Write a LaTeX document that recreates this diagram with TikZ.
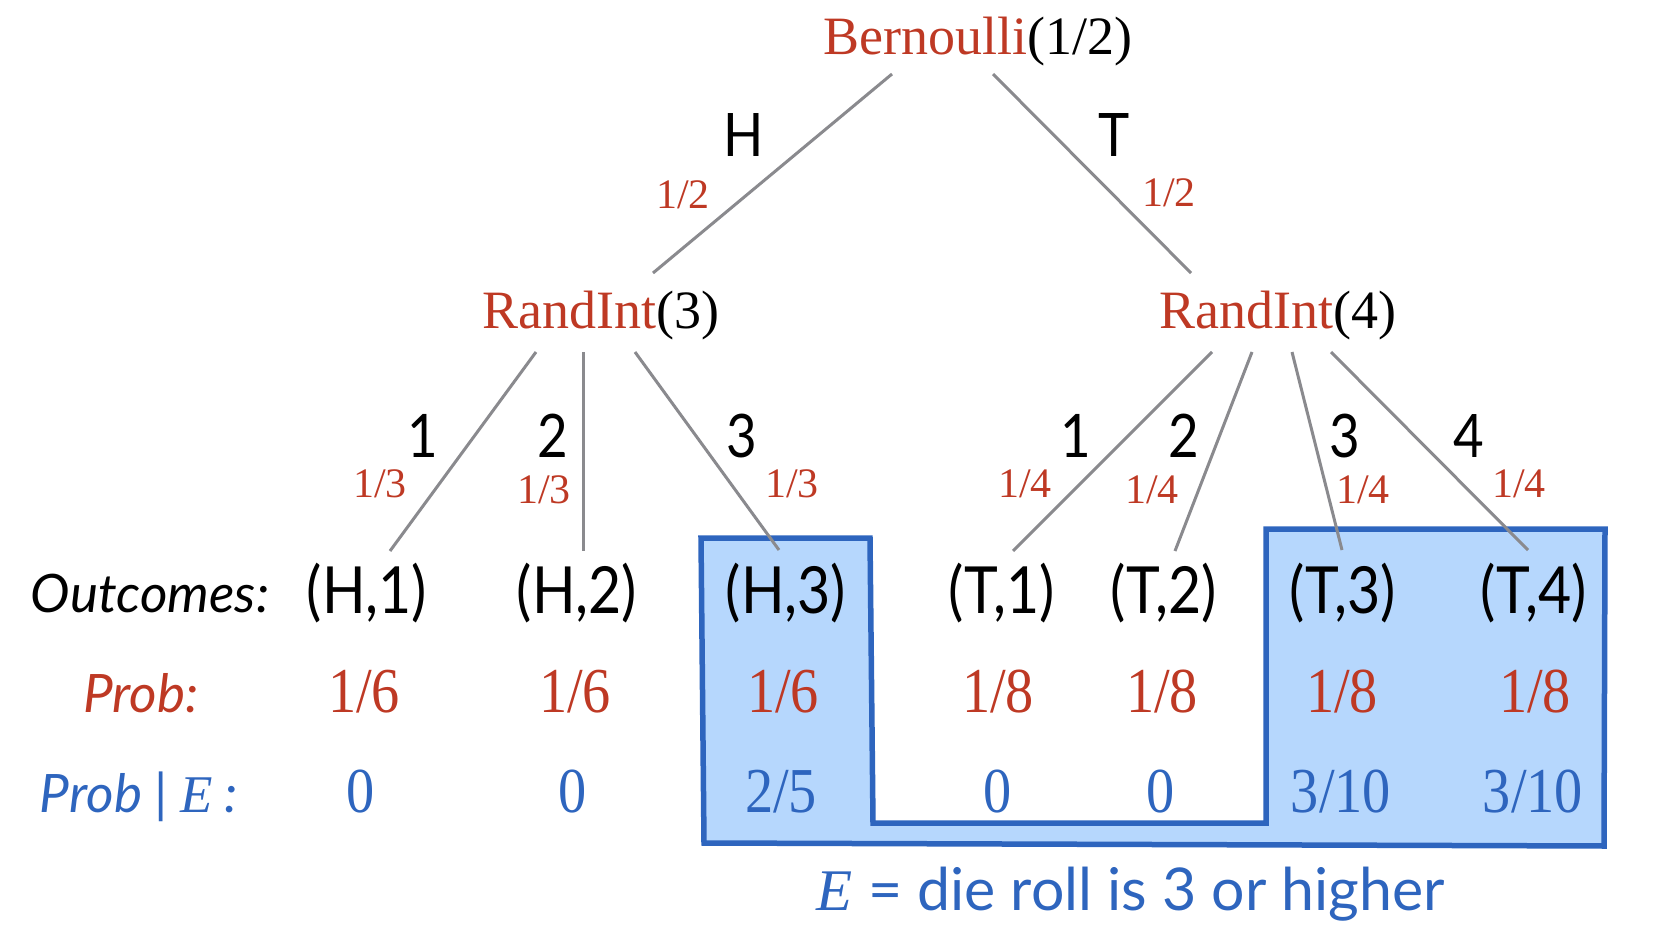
\documentclass[tikz,border=0pt]{standalone}
\usepackage{fontspec}
\newfontfamily\serifrm{Liberation Serif}
\newfontfamily\serifcond{Liberation Serif}[FakeStretch=0.88]
\newfontfamily\sanscond{Lato}[FakeStretch=0.88]
\newfontfamily\sanslato{Lato}
\definecolor{probred}{RGB}{190,57,36}
\definecolor{condblue}{RGB}{46,101,190}
\definecolor{eventfill}{RGB}{182,215,253}
\definecolor{branchgray}{RGB}{138,138,142}
\newcommand{\distfnt}{\serifrm\fontsize{54}{60}\selectfont}
\newcommand{\bprobfnt}{\serifrm\fontsize{42}{48}\selectfont}
\newcommand{\blabfnt}{\sanscond\fontsize{60}{66}\selectfont}
\newcommand{\outfnt}{\sanscond\fontsize{65}{72}\selectfont}
\newcommand{\valfnt}{\serifcond\fontsize{64}{70}\selectfont}
\newcommand{\rowfnt}{\sanslato\itshape\fontsize{53}{58}\selectfont}
\newcommand{\capfnt}{\sanslato\fontsize{59}{64}\selectfont}

\begin{document}
\begin{tikzpicture}[
    x=1pt, y=-1pt,
    txt/.style={inner sep=0pt, anchor=base},
    dist/.style={txt, font=\distfnt},
    brlabel/.style={txt, font=\blabfnt},
    brprob/.style={txt, font=\bprobfnt, text=probred},
    outcome/.style={txt, font=\outfnt},
    prob/.style={txt, font=\valfnt, text=probred},
    condprob/.style={txt, font=\valfnt, text=condblue},
    rowlabel/.style={txt, font=\rowfnt},
    branch/.style={draw=branchgray, line width=3pt},
    eventbox/.style={draw=condblue, fill=eventfill, line width=5.5pt}
  ]
    \useasboundingbox (0,0) rectangle (1660,936);

    % event E region
    \draw[eventbox] (701,538) -- (870,538) -- (873,823) -- (1266,823)
        -- (1266,529) -- (1605,529) -- (1604,846) -- (704,843) -- cycle;

    % distributions
    \node[dist] (bern) at (978,55)  {{\color{probred}Bernoulli}(1/2)};
    \node[dist] (r3)   at (601,328) {{\color{probred}RandInt}(3)};
    \node[dist] (r4)   at (1278,328) {{\color{probred}RandInt}(4)};

    % branch labels
    \node[brlabel] (lh) at (744,157) {H};
    \node[brlabel] (lt) at (1114,157) {T};
    \node[brprob]  (ph) at (683,209) {1/2};
    \node[brprob]  (pt) at (1169,207) {1/2};

    \node[brlabel] (l31) at (423,457) {1};
    \node[brlabel] (l32) at (553,457) {2};
    \node[brlabel] (l33) at (742,457) {3};
    \node[brprob]  (p31) at (380,497) {1/3};
    \node[brprob]  (p32) at (544,503) {1/3};
    \node[brprob]  (p33) at (792,497) {1/3};

    \node[brlabel] (l41) at (1076,457) {1};
    \node[brlabel] (l42) at (1184,457) {2};
    \node[brlabel] (l43) at (1345,457) {3};
    \node[brlabel] (l44) at (1469,457) {4};
    \node[brprob]  (p41) at (1025,497) {1/4};
    \node[brprob]  (p42) at (1152,503) {1/4};
    \node[brprob]  (p43) at (1363,503) {1/4};
    \node[brprob]  (p44) at (1519,497) {1/4};

    % rows
    \node[rowlabel] (rout)  at (150,612) {Outcomes:};
    \node[rowlabel, text=probred] (rprob) at (141,712) {Prob:};
    \node[rowlabel, text=condblue] (rcond) at (139,812)
        {Prob {\upshape|} {\serifrm E} :};

    \node[outcome] (h1) at (367,613)  {(H,1)};
    \node[outcome] (h2) at (577,613)  {(H,2)};
    \node[outcome] (h3) at (786,613)  {(H,3)};
    \node[outcome] (t1) at (1002,613) {(T,1)};
    \node[outcome] (t2) at (1164,613) {(T,2)};
    \node[outcome] (t3) at (1343,613) {(T,3)};
    \node[outcome] (t4) at (1534,613) {(T,4)};

    \node[prob] (ph1) at (364,712)  {1/6};
    \node[prob] (ph2) at (575,712)  {1/6};
    \node[prob] (ph3) at (783,712)  {1/6};
    \node[prob] (pt1) at (998,712)  {1/8};
    \node[prob] (pt2) at (1162,712) {1/8};
    \node[prob] (pt3) at (1342,712) {1/8};
    \node[prob] (pt4) at (1535,712) {1/8};

    \node[condprob] (ch1) at (361,812)  {0};
    \node[condprob] (ch2) at (573,812)  {0};
    \node[condprob] (ch3) at (781,812)  {2/5};
    \node[condprob] (ct1) at (998,812)  {0};
    \node[condprob] (ct2) at (1161,812) {0};
    \node[condprob] (ct3) at (1341,812) {3/10};
    \node[condprob] (ct4) at (1533,812) {3/10};

    \node[txt, font=\capfnt, text=condblue] (cap) at (1131,910)
        {{\serifrm\itshape E} = die roll is 3 or higher};

    % branches
    \draw[branch] ([xshift=-86pt,yshift=-19pt]bern.base) -- ([xshift=52pt,yshift=55pt]r3.base);
    \draw[branch] ([xshift=15pt,yshift=-19pt]bern.base) -- ([xshift=-87pt,yshift=55pt]r4.base);
    \draw[branch] ([xshift=-65pt,yshift=-24pt]r3.base) -- ([xshift=23pt,yshift=62pt]h1.base);
    \draw[branch] ([xshift=-18pt,yshift=-24pt]r3.base) -- ([xshift=6pt,yshift=62pt]h2.base);
    \draw[branch] ([xshift=34pt,yshift=-24pt]r3.base) -- ([xshift=-7pt,yshift=63pt]h3.base);
    \draw[branch] ([xshift=-66pt,yshift=-24pt]r4.base) -- ([xshift=11pt,yshift=62pt]t1.base);
    \draw[branch] ([xshift=-26pt,yshift=-24pt]r4.base) -- ([xshift=11pt,yshift=62pt]t2.base);
    \draw[branch] ([xshift=14pt,yshift=-24pt]r4.base) -- ([xshift=-1pt,yshift=63pt]t3.base);
    \draw[branch] ([xshift=53pt,yshift=-24pt]r4.base) -- ([xshift=-6pt,yshift=63pt]t4.base);
\end{tikzpicture}
\end{document}
